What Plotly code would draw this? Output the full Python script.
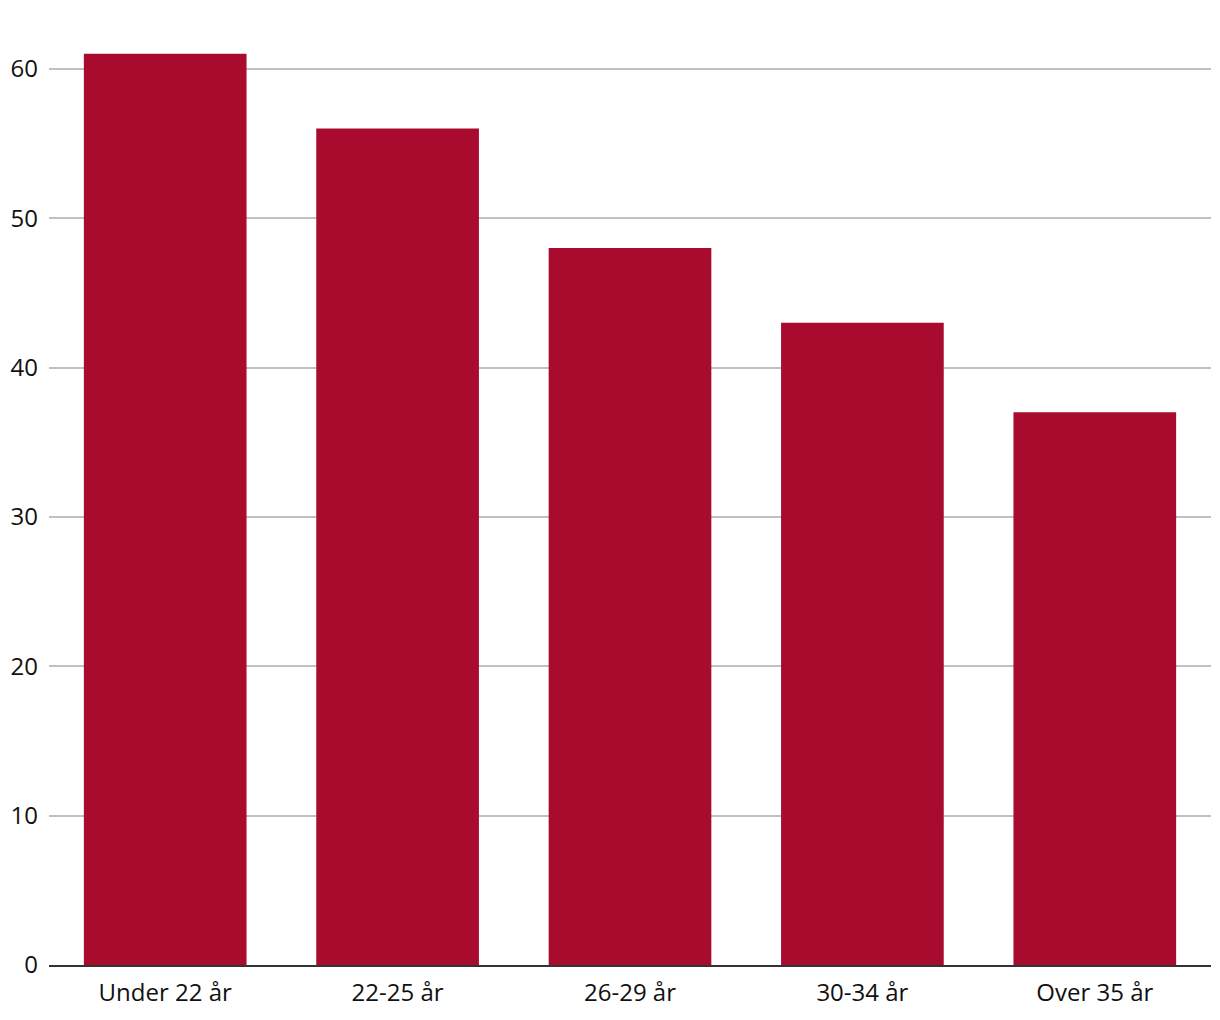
import plotly.graph_objects as go

categories = ["Under 22 år", "22-25 år", "26-29 år", "30-34 år", "Over 35 år"]
values = [61, 56, 48, 43, 37]
tick_vals = [0, 10, 20, 30, 40, 50, 60]

fig = go.Figure(go.Bar(x=categories, y=values, marker_color="#a80b2e", marker_line_width=0))

fig.update_layout(
    width=1212, height=1012,
    margin=dict(l=41, r=9, t=16, b=55),
    paper_bgcolor="white", plot_bgcolor="white",
    bargap=0.3,
    showlegend=False,
    font=dict(family="Open Sans", size=24, color="#111"),
)
fig.update_xaxes(showline=True, linecolor="#333", linewidth=2, ticks="", tickfont=dict(size=24),
                 ticklabelstandoff=5, automargin=False)
fig.update_yaxes(range=[0, 63], tickvals=tick_vals, showgrid=True, gridcolor="#c0c0c0", gridwidth=1.5,
                 zeroline=False, ticks="", tickfont=dict(size=24), ticklabelstandoff=10,
                 automargin=False)

fig.write_html("out.html")
